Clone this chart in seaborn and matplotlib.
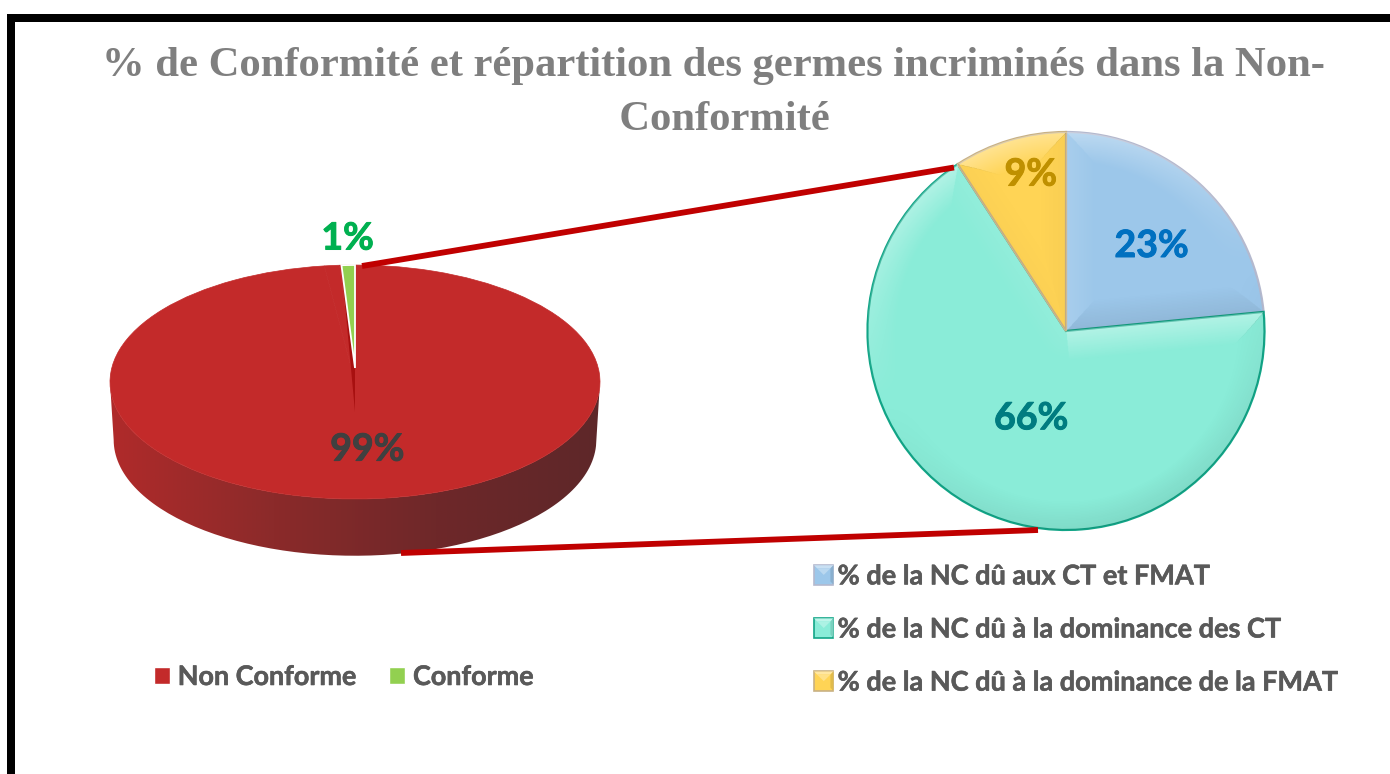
import numpy as np
import matplotlib
matplotlib.use("Agg")
import matplotlib.pyplot as plt
import matplotlib.patheffects as pe
import seaborn as sns
from matplotlib.colors import LinearSegmentedColormap, to_rgb
from matplotlib.legend_handler import HandlerPatch
from matplotlib.patches import PathPatch, Patch, Polygon, Rectangle
from matplotlib.path import Path

# ---------- data ----------
title = "% de Conformité et répartition des germes incriminés dans la Non-\n  Conformité"
left_categories = ["Non Conforme", "Conforme"]
left_values = [99, 1]
left_labels = ["99%", "1%"]
right_categories = ["% de la NC dû aux CT et FMAT",
                    "% de la NC dû à la dominance des CT",
                    "% de la NC dû à la dominance de la FMAT"]
right_values = [23, 66, 9]
right_labels = ["23%", "66%", "9%"]

# ---------- styles ----------
W, H = 1390, 774
RED, GREEN = "#C32A2A", "#92D050"
right_colors = ["#9CC7EA", "#8AECD8", "#FFD455"]
right_edges = ["#B4B9CE", "#12A587", "#C8B184"]
right_label_colors = ["#0070C0", "#007C80", "#BF9000"]
right_label_dist = [0.61, 0.46, 0.82]
right_label_nudge = [(3, -3.5), (3.5, -3.5), (8, 0)]
left_label_colors = ["#404040", "#00B050"]
GREY = "#595959"
CONNECT = "#C00000"
FONT = "Lato"

sns.set_theme(style="white")
plt.rcParams["font.family"] = [FONT, "DejaVu Sans"]
fig = plt.figure(figsize=(W / 100, H / 100), dpi=100, facecolor="white")


def heavy(text, color, width=0.6):
    text.set_path_effects([pe.withStroke(linewidth=width, foreground=color)])


def px_axes(cx, cy, rx, ry, pad=1.7):
    ax = fig.add_axes([(cx - rx * pad) / W, 1 - (cy + ry * pad) / H,
                       2 * rx * pad / W, 2 * ry * pad / H])
    ax.patch.set_alpha(0)
    return ax, pad


def finish(ax, pad):
    ax.set_aspect("auto")
    ax.set_xlim(-pad, pad)
    ax.set_ylim(-pad, pad)
    ax.axis("off")


# ---------- frame (figure-pixel axes) ----------
bg = fig.add_axes([11.3 / W, 0, 1 - 11.3 / W, 1 - 17.5 / H], zorder=0)
bg.set_xlim(11.3, W)
bg.set_ylim(H, 17.5)
bg.set_xticks([])
bg.set_yticks([])
sns.despine(ax=bg, right=True, bottom=True, top=False, left=False)
for side in ("top", "left"):
    bg.spines[side].set_linewidth(8 * 0.72)
    bg.spines[side].set_color("black")
    bg.spines[side].set_visible(True)

fig.text(714 / W, 1 - 93 / H, title, ha="center", va="center",
         family="Liberation Serif", weight="bold", fontsize=30.7,
         color="#7F7F7F", linespacing=1.56)

# ---------- left pseudo-3D pie ----------
ax, pad = px_axes(355, 382, 245, 117)
ax.set_zorder(1)

# side wall: top ellipse outline joined to a slightly narrower lower ellipse
t = np.linspace(np.pi, 2 * np.pi, 120)
top_edge = np.c_[np.cos(t), np.sin(t)]
low_edge = np.c_[0.985 * np.cos(t), 0.99 * np.sin(t) - 0.495][::-1]
wall_xy = np.r_[top_edge, low_edge, top_edge[:1]]
wall_patch = PathPatch(Path(wall_xy), fc="none", ec="none", transform=ax.transData)
ax.add_patch(wall_patch)
wall_cmap = LinearSegmentedColormap.from_list(
    "wall", ["#B02B2A", "#8B2A2A", "#6E2829", "#5E2729"])
im = ax.imshow(np.linspace(0, 1, 256)[None, :], cmap=wall_cmap,
               extent=(-1, 1, -2, 0), aspect="auto", zorder=1)
im.set_clip_path(wall_patch)

# top face
face, _ = ax.pie(left_values, colors=[RED, RED], startangle=90 + 3.6,
                 counterclock=False, radius=1,
                 wedgeprops=dict(linewidth=0.5, edgecolor=RED, zorder=2))

# dark inner wall seen through the slice gap
dark, _ = ax.pie([99.3, 0.7], colors=["none", "#A81010"], startangle=90,
                 counterclock=False, radius=1.256, center=(0, -0.256),
                 wedgeprops=dict(linewidth=0, zorder=3))

# the small slice
small, _ = ax.pie(left_values[::-1], colors=[GREEN, "none"], startangle=90,
                  counterclock=True, radius=0.88, center=(0, 0.12),
                  wedgeprops=dict(linewidth=1.3, edgecolor="white", zorder=4))
small[1].set_visible(False)
finish(ax, pad)

t1 = ax.annotate(left_labels[0], (0.05, -0.56), xytext=(0, -1.5), textcoords="offset points",
                 ha="center", va="center", fontsize=27,
                 weight="bold", color=left_label_colors[0], zorder=6)
t2 = ax.annotate(left_labels[1], (-0.03, 1.25), xytext=(0, -2), textcoords="offset points",
                 ha="center", va="center", fontsize=27,
                 weight="bold", color=left_label_colors[1], zorder=6)
heavy(t1, left_label_colors[0], 0.7)
heavy(t2, left_label_colors[1], 0.7)

# ---------- right bevelled pie ----------
ax2, pad2 = px_axes(1066, 331, 198.5, 199, pad=1.3)
ax2.set_zorder(2)
wedges, _ = ax2.pie(right_values, colors=right_colors, startangle=90,
                    counterclock=False, radius=1,
                    wedgeprops=dict(linewidth=1.6, zorder=2))
for w, e in zip(wedges, right_edges):
    w.set_edgecolor(e)

# bevel shading, clipped to each wedge
gx, gy = np.meshgrid(np.linspace(-1, 1, 700), np.linspace(-1, 1, 700))
gr = np.hypot(gx, gy)
light = np.array([-0.35, 0.94])
bevel = 0.15


def ray_distance(angle):
    ux, uy = np.cos(angle), np.sin(angle)
    along = gx * ux + gy * uy
    perp = np.abs(-gx * uy + gy * ux)
    return np.where(along < 0, gr, perp)


for w in wedges:
    a1, a2 = np.radians(w.theta1), np.radians(w.theta2)
    d_arc = 1 - gr
    d1 = ray_distance(a1)
    d2 = ray_distance(a2)
    dist = np.minimum(np.minimum(d_arc, d1), d2)
    n_arc = (gx * light[0] + gy * light[1]) / np.maximum(gr, 1e-6)
    n1 = np.sin(a1) * light[0] - np.cos(a1) * light[1]
    n2 = -np.sin(a2) * light[0] + np.cos(a2) * light[1]
    facing = np.where(dist == d_arc, n_arc, np.where(dist == d1, n1, n2))
    fade = np.clip(1 - dist / bevel, 0, 1)
    shade = facing * fade
    rgba = np.zeros(gx.shape + (4,))
    rgba[..., :3] = np.where(shade[..., None] > 0, 1.0, 0.0)
    rgba[..., 3] = np.where(shade > 0, shade * 0.36, -shade * 0.08)
    img = ax2.imshow(rgba, extent=(-1, 1, -1, 1), origin="lower",
                     aspect="auto", zorder=3)
    img.set_clip_path(w)

for w, txt, col, dist, nudge in zip(wedges, right_labels, right_label_colors,
                                    right_label_dist, right_label_nudge):
    mid = np.radians((w.theta1 + w.theta2) / 2)
    tx = ax2.annotate(txt, (dist * np.cos(mid), dist * np.sin(mid)), xytext=nudge,
                      textcoords="offset points", ha="center",
                      va="center", fontsize=27, weight="bold", color=col, zorder=6)
    heavy(tx, col, 0.7)
finish(ax2, pad2)

# ---------- connectors on top of both pies ----------
top = fig.add_axes([0, 0, 1, 1], zorder=3)
top.set_xlim(0, W)
top.set_ylim(H, 0)
top.axis("off")
top.patch.set_alpha(0)
top.plot([362, 954], [266, 167.5], color=CONNECT, lw=4.2, solid_capstyle="butt")
top.plot([401, 1038], [553, 530], color=CONNECT, lw=4.2, solid_capstyle="butt")


# ---------- legends ----------
class BevelHandler(HandlerPatch):
    def __init__(self, edge_map):
        super().__init__()
        self.edge_map = edge_map

    def create_artists(self, legend, orig, xd, yd, width, height, fontsize, trans):
        base = np.array(to_rgb(orig.get_facecolor()))
        x0, y0, x1, y1 = -xd, -yd, -xd + width, -yd + height
        b = min(width, height) * 0.16
        arts = [Rectangle((x0, y0), width, height, fc=base,
                          ec=self.edge_map[tuple(base)], lw=1.2, transform=trans)]
        lite = base + (1 - base) * 0.45
        dark = base * 0.88
        arts.append(Polygon([(x0, y1), (x1, y1), (x1 - b, y1 - b), (x0 + b, y1 - b)],
                            fc=lite, ec="none", transform=trans))
        arts.append(Polygon([(x1, y0), (x1, y1), (x1 - b, y1 - b), (x1 - b, y0 + b)],
                            fc=dark, ec="none", transform=trans))
        arts.append(Polygon([(x0 + b, y1 - b), (x1 - b, y1 - b),
                             ((x0 + x1) / 2, (y0 + y1) / 2)],
                            fc=base + (1 - base) * 0.3, ec="none", transform=trans))
        return arts


leg_l = fig.legend(
    [Patch(fc=RED), Patch(fc=GREEN)], left_categories, loc="center left",
    bbox_to_anchor=(154 / W, 1 - 677 / H), ncol=2, frameon=False,
    handlelength=0.58, handleheight=0.56, handletextpad=0.3, columnspacing=1.25,
    borderpad=0, borderaxespad=0, labelcolor=GREY,
    prop=dict(family=FONT, weight="bold", size=19.4))

edge_map = {tuple(np.array(to_rgb(c))): e for c, e in zip(right_colors, right_edges)}
leg_r = fig.legend(
    [Patch(fc=c) for c in right_colors], right_categories, loc="center left",
    bbox_to_anchor=(814 / W, 1 - 629.5 / H), frameon=False,
    handlelength=0.72, handleheight=0.72, handletextpad=0.15, labelspacing=1.075,
    borderpad=0, borderaxespad=0, labelcolor=GREY,
    prop=dict(family=FONT, weight="bold", size=19.5),
    handler_map={Patch: BevelHandler(edge_map)})
leg_l.set_zorder(5)
leg_r.set_zorder(5)
for leg in (leg_l, leg_r):
    for tx in leg.get_texts():
        heavy(tx, GREY, 0.4)

fig.savefig("out.png", dpi=100, facecolor="white")
